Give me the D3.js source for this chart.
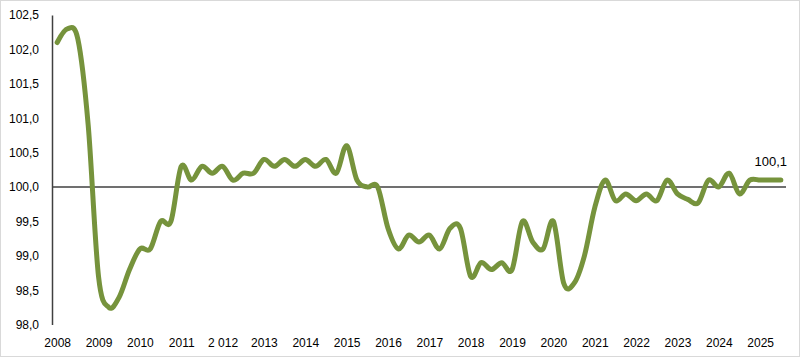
<!DOCTYPE html>
<html>
<head>
<meta charset="utf-8">
<script src="https://cdn.jsdelivr.net/npm/d3@7/dist/d3.min.js"></script>
<style>
  html, body { margin: 0; padding: 0; background: #fff; }
  svg { display: block; }
  text { font-family: "Liberation Sans", Arial, sans-serif; fill: #000; }
</style>
</head>
<body>
<script>
// Quarterly index values, 2008 Q1 – 2025 Q3
const quarters = d3.range(71);
const values = [
  102.1, 102.3, 102.15, 100.9,  // 2008
  98.7, 98.25, 98.4, 98.8,      // 2009
  99.1, 99.1, 99.5, 99.5,       // 2010
  100.3, 100.1, 100.3, 100.2,   // 2011
  100.3, 100.1, 100.2, 100.2,   // 2012
  100.4, 100.3, 100.4, 100.3,   // 2013
  100.4, 100.3, 100.4, 100.2,   // 2014
  100.6, 100.1, 100.0, 100.0,   // 2015
  99.4, 99.1, 99.3, 99.2,       // 2016
  99.3, 99.1, 99.4, 99.4,       // 2017
  98.7, 98.9, 98.8, 98.9,       // 2018
  98.8, 99.5, 99.2, 99.1,       // 2019
  99.5, 98.6, 98.6, 99.0,       // 2020
  99.7, 100.1, 99.8, 99.9,      // 2021
  99.8, 99.9, 99.8, 100.1,      // 2022
  99.9, 99.82, 99.77, 100.1,    // 2023
  100.0, 100.2, 99.9, 100.1,    // 2024
  100.1, 100.1, 100.1           // 2025
];
const yearLabels = ["2008","2009","2010","2011","2 012","2013","2014","2015","2016",
                    "2017","2018","2019","2020","2021","2022","2023","2024","2025"];
const yTicks = [98.0, 98.5, 99.0, 99.5, 100.0, 100.5, 101.0, 101.5, 102.0, 102.5];
const lastLabel = "100,1";

const W = 800, H = 357;
const svg = d3.select("body").append("svg").attr("width", W).attr("height", H);

// border
svg.append("rect").attr("x", 0.5).attr("y", 0.5).attr("width", W - 1).attr("height", H - 1)
  .attr("fill", "#fff").attr("stroke", "#d9d9d9").attr("stroke-width", 1);

const x = d3.scalePoint().domain(quarters).range([52, 786]).padding(0.5);
const y = d3.scaleLinear().domain([98, 102.5]).range([324.6, 15]);
const fmt = v => d3.format(".1f")(v).replace(".", ",");

// y axis
const yAxis = d3.axisLeft(y).tickValues(yTicks).tickSize(0).tickPadding(13).tickFormat(fmt);
const gy = svg.append("g").attr("transform", "translate(52,0)").call(yAxis);
gy.select(".domain").attr("stroke", "#404040").attr("stroke-width", 1.5);
gy.selectAll("text").attr("font-size", 12).attr("font-family", "Liberation Sans, Arial, sans-serif").attr("fill", "#000");

// reference line at 100
svg.append("line").attr("x1", 52).attr("x2", 786).attr("y1", y(100)).attr("y2", y(100))
  .attr("stroke", "#404040").attr("stroke-width", 1.5);

// x axis labels (one per year)
const yearIdx = yearLabels.map((d, i) => i * 4);
const xAxis = d3.axisBottom(x).tickValues(yearIdx).tickSize(0).tickPadding(0)
  .tickFormat(d => yearLabels[d / 4]);
const gx = svg.append("g").attr("transform", "translate(0,338)").call(xAxis);
gx.select(".domain").remove();
gx.selectAll("text").attr("font-size", 12).attr("font-family", "Liberation Sans, Arial, sans-serif").attr("fill", "#000");

// line
const line = d3.line().x((d, i) => x(quarters[i])).y(d => y(d)).curve(d3.curveCatmullRom.alpha(0));
svg.append("path").datum(values).attr("d", line).attr("fill", "none")
  .attr("stroke", "#76933c").attr("stroke-width", 5).attr("stroke-linejoin", "round").attr("stroke-linecap", "round");

// last value label
svg.append("text").attr("x", x(quarters[quarters.length - 1]) - 10).attr("y", y(values[values.length - 1]) - 14)
  .attr("text-anchor", "middle").attr("font-size", 13).text(lastLabel);
</script>
</body>
</html>
